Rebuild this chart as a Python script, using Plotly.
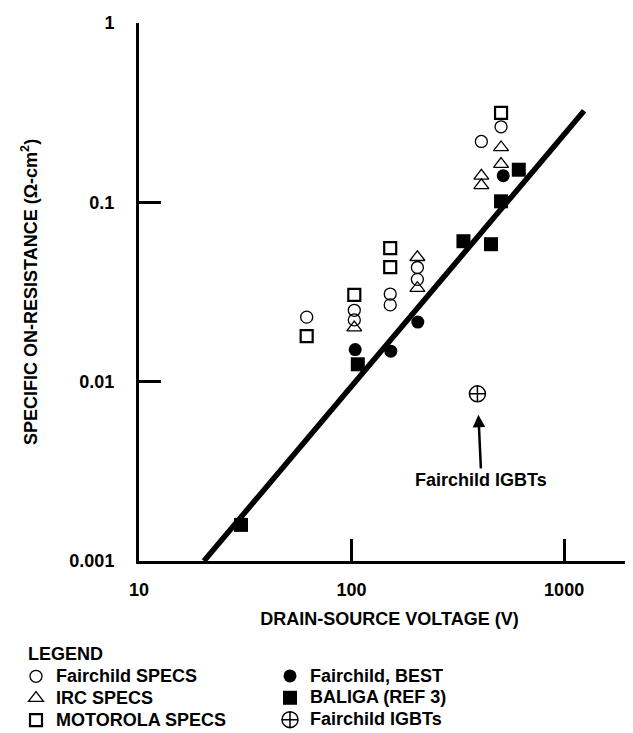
import math
import plotly.graph_objects as go

# ---------------- data ----------------
fairchild_specs_v = [61.5, 103, 103, 152, 152, 204, 204, 408, 505]
fairchild_specs_r = [0.0229, 0.0250, 0.0221, 0.0308, 0.0268, 0.0433, 0.0372, 0.2185, 0.2637]

irc_specs_v = [103, 204, 204, 408, 408, 505, 505]
irc_specs_r = [0.0200, 0.0494, 0.0332, 0.1404, 0.1243, 0.2023, 0.1633]

motorola_specs_v = [61.5, 103, 152, 152, 505]
motorola_specs_r = [0.01796, 0.0305, 0.0555, 0.0435, 0.3155]

fairchild_best_v = [104, 153, 205, 517]
fairchild_best_r = [0.0151, 0.0148, 0.0215, 0.1408]

baliga_v = [30.2, 107, 336, 453, 505, 612]
baliga_r = [0.00159, 0.0125, 0.0607, 0.0584, 0.1013, 0.152]

igbt_v = [391]
igbt_r = [0.00855]

trend_v = [20.2, 1242]
trend_r = [0.001, 0.324]

x_ticks = [10, 100, 1000]
x_ticktext = ["10", "100", "1000"]
y_ticks = [0.001, 0.01, 0.1, 1]
y_ticktext = ["0.001", "0.01", "0.1", "1"]

FONT = "Liberation Sans, Arial, Helvetica, sans-serif"
BOLD18 = dict(family=FONT, size=18, color="black", weight="bold")


def lbl(s):
    return "<span style='font-size:18px'>" + s + "</span>"


fig = go.Figure()

fig.add_trace(go.Scatter(x=trend_v, y=trend_r, mode="lines",
                         line=dict(color="black", width=5.5),
                         showlegend=False, hoverinfo="skip"))

fig.add_trace(go.Scatter(x=fairchild_specs_v, y=fairchild_specs_r, mode="markers",
                         name=lbl("Fairchild SPECS"), legend="legend", legendrank=1,
                         marker=dict(symbol="circle-open", size=12, color="black",
                                     line=dict(width=1.3, color="black"))))
fig.add_trace(go.Scatter(x=irc_specs_v, y=irc_specs_r, mode="markers",
                         name=lbl("IRC SPECS"), legend="legend", legendrank=2,
                         marker=dict(symbol="triangle-up-open", size=13, color="black",
                                     line=dict(width=1.3, color="black"))))
fig.add_trace(go.Scatter(x=motorola_specs_v, y=motorola_specs_r, mode="markers",
                         name=lbl("MOTOROLA SPECS"), legend="legend", legendrank=3,
                         marker=dict(symbol="square-open", size=12, color="black",
                                     line=dict(width=2.2, color="black"))))
fig.add_trace(go.Scatter(x=fairchild_best_v, y=fairchild_best_r, mode="markers",
                         name=lbl("Fairchild, BEST"), legend="legend2", legendrank=1,
                         marker=dict(symbol="circle", size=13, color="black")))
fig.add_trace(go.Scatter(x=baliga_v, y=baliga_r, mode="markers",
                         name=lbl("BALIGA (REF 3)"), legend="legend2", legendrank=2,
                         marker=dict(symbol="square", size=14, color="black")))
fig.add_trace(go.Scatter(x=igbt_v, y=igbt_r, mode="markers",
                         name=lbl("Fairchild IGBTs"), legend="legend2", legendrank=3,
                         marker=dict(symbol="circle-cross-open", size=16, color="black",
                                     line=dict(width=1.5, color="black"))))

axis_common = dict(
    type="log", showline=True, linecolor="black", linewidth=3,
    ticks="inside", ticklen=22, tickwidth=3, tickcolor="black",
    showgrid=False, zeroline=False, mirror=False, automargin=False,
    tickfont=BOLD18,
)

fig.update_xaxes(**axis_common,
                 range=[1, math.log10(2275)],
                 tickvals=x_ticks, ticktext=x_ticktext,
                 ticklabelstandoff=10,
                 title=dict(text="DRAIN-SOURCE VOLTAGE (V)", standoff=14, font=BOLD18))
fig.update_yaxes(**axis_common,
                 range=[-3, 0],
                 tickvals=y_ticks, ticktext=y_ticktext,
                 ticklabelstandoff=18)

# y-axis title
fig.add_annotation(xref="paper", yref="paper", x=0, y=0.5, xshift=-110,
                   xanchor="center", yanchor="middle", textangle=-90,
                   text="SPECIFIC ON-RESISTANCE (Ω-cm<sup>2</sup>)",
                   showarrow=False, font=BOLD18)

fig.add_annotation(x=math.log10(igbt_v[0]), y=math.log10(igbt_r[0]), xref="x", yref="y",
                   text="Fairchild IGBTs", showarrow=True, arrowhead=2, arrowsize=1,
                   arrowwidth=2.5, arrowcolor="black", standoff=21, ax=4, ay=86,
                   font=BOLD18)

legend_common = dict(
    xref="container", yref="container", xanchor="left", yanchor="top",
    orientation="v", bgcolor="rgba(0,0,0,0)", borderwidth=0,
    font=dict(family=FONT, size=14.5, color="black", weight="bold"),
    tracegroupgap=0, itemclick=False, itemdoubleclick=False,
)

fig.update_layout(
    width=633, height=733,
    margin=dict(l=131, r=1, t=15, b=180, autoexpand=False),
    paper_bgcolor="white", plot_bgcolor="white",
    font=BOLD18,
    legend=dict(**legend_common, x=8 / 633, y=1 - 629 / 733,
                title=dict(text="\u00a0\u00a0LEGEND", side="top", font=BOLD18)),
    legend2=dict(**legend_common, x=262 / 633, y=1 - 652 / 733),
)

fig.write_html("out.html")
